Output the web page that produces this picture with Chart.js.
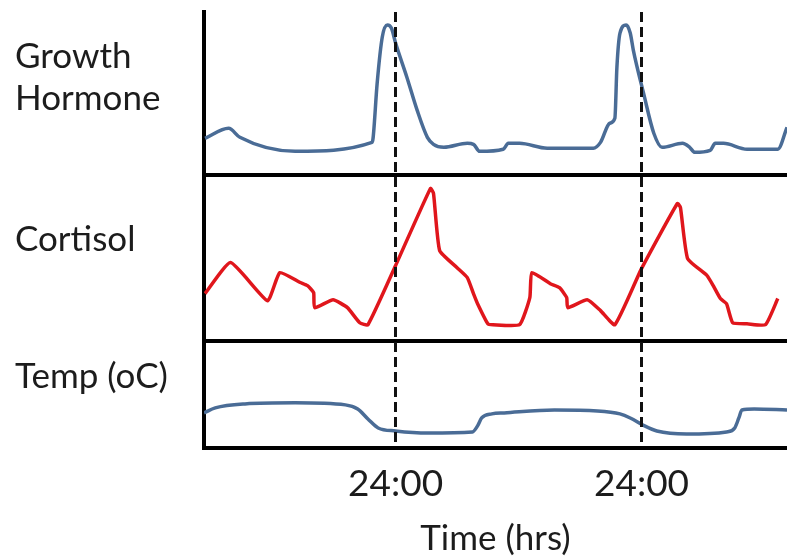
<!DOCTYPE html>
<html>
<head>
<meta charset="utf-8">
<title>Growth hormone, cortisol and temperature</title>
<script src="https://cdn.jsdelivr.net/npm/chart.js@4.4.1/dist/chart.umd.min.js"></script>
<style>
  html, body { margin: 0; padding: 0; background: #fff; }
  #wrap { width: 787px; height: 558px; }
</style>
</head>
<body>
<div id="wrap"><canvas id="chart" width="787" height="558"></canvas></div>
<script>
// Time in hours (24 = first 24:00, 48 = second 24:00)
const midnightHours = [24, 48];
const midnightLabels = ['24:00', '24:00'];

// Panel labels (drawn as y tick labels)
const ghLabel = ['Growth', 'Hormone'];
const cortLabel = 'Cortisol';
const tempLabel = 'Temp (oC)';

// Growth hormone trace (relative level 0-100)
const ghTime  = [5.4, 7.7, 8.8, 14.2, 21.7, 21.8, 22.2, 22.7, 23.2, 23.6, 24.0, 25.1, 26.1, 27.1, 27.7, 28.7,
                 31.0, 31.6, 32.2, 34.5, 35.0, 36.1, 38.8, 43.3, 44.0, 44.9, 45.4, 45.6, 45.9, 46.5, 46.9,
                 47.2, 48.2, 49.2, 50.0, 52.0, 52.7, 53.2, 54.7, 55.2, 56.0, 58.3, 61.3, 62.2];
const ghLevel = [22.7, 28.8, 23.3, 14.7, 20.2, 22.7, 56.4, 84.7, 92.0, 90.0, 81.0, 60.1, 39.9, 23.3, 19.0, 17.2,
                 19.6, 19.0, 14.7, 16.0, 19.6, 19.6, 16.6, 16.6, 20.2, 31.9, 35.0, 66.3, 87.1, 92.0, 87.1,
                 76.7, 50.3, 25.8, 17.2, 19.6, 17.2, 14.1, 15.3, 19.6, 19.6, 16.0, 16.0, 29.4];

// Cortisol trace (relative level 0-100)
const cortTime  = [5.4, 7.9, 11.5, 12.7, 14.7, 15.4, 16.0, 16.1, 17.9, 19.3, 20.5, 21.3, 24.0, 27.4, 27.7,
                   28.3, 30.0, 31.0, 31.6, 32.0, 33.0, 33.5, 36.1, 37.1, 37.3, 39.1, 40.0, 40.7, 40.8, 42.7,
                   44.0, 45.4, 48.0, 51.5, 51.8, 52.5, 54.4, 55.0, 55.7, 56.3, 56.9, 58.3, 60.1, 61.3];
const cortLevel = [28.5, 47.3, 24.2, 41.2, 35.2, 33.3, 29.1, 20.0, 24.8, 20.0, 10.9, 9.7, 45.5, 92.1, 89.1,
                   54.5, 44.2, 38.2, 28.5, 22.4, 10.3, 9.7, 9.7, 26.1, 41.2, 34.5, 32.1, 26.1, 20.0, 24.8,
                   18.2, 9.7, 43.6, 83.0, 80.6, 49.7, 39.4, 33.3, 25.5, 22.4, 10.9, 10.3, 9.7, 25.5];

// Body temperature trace (relative level 0-100)
const tempTime  = [5.3, 6.4, 9.3, 14.2, 19.1, 20.3, 21.3, 22.3, 24.0, 27.2, 31.5, 32.0, 32.4, 33.4, 34.6,
                   39.5, 43.7, 45.9, 46.9, 48.3, 49.5, 52.4, 56.3, 57.1, 57.5, 57.8, 59.0, 62.2];
const tempLevel = [32.7, 37.4, 41.1, 42.1, 40.2, 36.4, 27.1, 18.7, 15.9, 14.0, 15.0, 20.6, 28.0, 31.8, 32.7,
                   35.5, 34.6, 31.8, 28.0, 20.6, 15.9, 13.1, 15.0, 18.7, 28.0, 35.5, 36.4, 35.5];

const textColor = '#1c1c1c';
const blue = '#4a6c96';
const red = '#e0161c';

function toPoints(times, levels) {
    return times.map((t, i) => ({ x: t, y: levels[i] }));
}

// One stacked y axis per panel; the panel name sits on a single tick
function panelAxis(weight, label, labelAt, topLine) {
    return {
        type: 'linear',
        position: 'left',
        stack: 'panels',
        stackWeight: weight,
        min: 0,
        max: 100,
        afterBuildTicks: s => {
            s.ticks = topLine ? [{ value: labelAt }, { value: 100 }] : [{ value: labelAt }];
        },
        afterFit: s => {
            s.width = 189;
            s.paddingTop = 0;
            s.paddingBottom = 0;
        },
        ticks: {
            autoSkip: false,
            crossAlign: 'far',
            padding: 0,
            color: textColor,
            font: { family: 'Lato', size: 35, lineHeight: 1.2 },
            callback: v => (v === labelAt ? label : '')
        },
        grid: {
            drawTicks: false,
            lineWidth: 4,
            color: c => (c.tick && c.tick.value === 100 ? '#000' : 'rgba(0,0,0,0)')
        },
        border: { color: '#000', width: 4 }
    };
}

const lineStyle = {
    borderWidth: 3.5,
    pointRadius: 0,
    fill: false
};

new Chart(document.getElementById('chart'), {
    type: 'line',
    data: {
        datasets: [
            {
                label: 'Growth Hormone',
                data: toPoints(ghTime, ghLevel),
                yAxisID: 'yGH',
                borderColor: blue,
                cubicInterpolationMode: 'monotone',
                ...lineStyle
            },
            {
                label: 'Cortisol',
                data: toPoints(cortTime, cortLevel),
                yAxisID: 'yCort',
                borderColor: red,
                tension: 0.15,
                ...lineStyle
            },
            {
                label: 'Temp',
                data: toPoints(tempTime, tempLevel),
                yAxisID: 'yTemp',
                borderColor: blue,
                cubicInterpolationMode: 'monotone',
                ...lineStyle
            }
        ]
    },
    options: {
        responsive: false,
        animation: false,
        layout: { padding: { left: 15, top: 12, right: 0, bottom: 2 } },
        plugins: {
            legend: { display: false },
            tooltip: { enabled: false }
        },
        scales: {
            x: {
                type: 'linear',
                min: 5.3,
                max: 62.2,
                afterBuildTicks: s => {
                    s.ticks = midnightHours.map(v => ({ value: v }));
                },
                ticks: {
                    autoSkip: false,
                    maxRotation: 0,
                    padding: 18,
                    color: textColor,
                    font: { family: 'Lato', size: 37, lineHeight: 1.0 },
                    callback: (v, i) => midnightLabels[i]
                },
                // dashed midnight markers, drawn over the traces
                grid: { color: '#111', lineWidth: 3, drawTicks: false, z: 1 },
                border: { color: '#000', width: 4, dash: [10, 5], z: 1 },
                title: {
                    display: true,
                    text: 'Time (hrs)',
                    color: textColor,
                    font: { family: 'Lato', size: 35, lineHeight: 1.0 },
                    padding: { top: 0, bottom: 0 }
                }
            },
            yTemp: panelAxis(107, tempLabel, 66, true),
            yCort: panelAxis(165, cortLabel, 61, true),
            yGH: panelAxis(163, ghLabel, 59.5, false)
        }
    }
});
</script>
</body>
</html>
